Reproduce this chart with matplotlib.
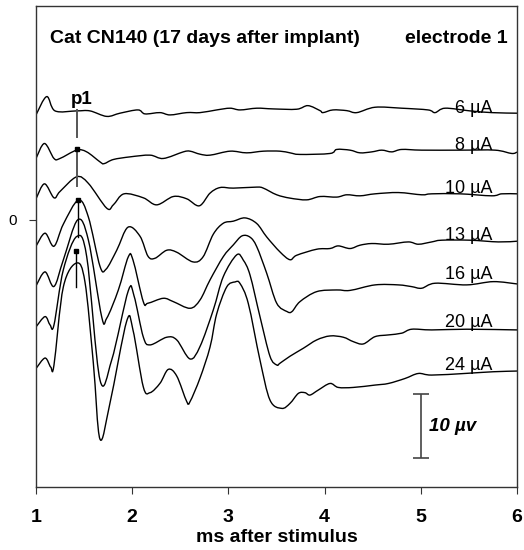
import numpy as np
import matplotlib
matplotlib.use('Agg')
import matplotlib.pyplot as plt
from matplotlib.path import Path
from matplotlib.patches import PathPatch

plt.rcParams['font.family'] = ['Liberation Sans', 'DejaVu Sans']

# stimulus currents (top to bottom)
currents = ['6 µA', '8 µA', '10 µA', '13 µA', '16 µA', '20 µA', '24 µA']

# each trace: time (ms) and amplitude (µV) relative to its own start
t6 = [1.000, 1.111, 1.198, 1.423, 1.561, 1.735, 1.873, 2.060, 2.133, 2.289, 2.393, 2.567,
      2.705, 2.878, 3.017, 3.121, 3.294, 3.464, 3.710, 3.827, 3.952, 3.983, 4.087, 4.230,
      4.334, 4.524, 4.801, 5.075, 5.148, 5.252, 5.511, 5.737, 6.000]
v6 = [0, 2.86, 0.63, 0.63, 0.63, -0.23, 0.27, 0.78, 0.16, 0.36, 0, 0.36,
      0.36, 0.78, 1.05, 0.78, 1.05, 0.94, 0.89, 1.45, 0.67, 0.36, 0.78, 0.67,
      0.36, 1.2, 1.05, 0.78, 0.36, 1.05, 0.63, 0.36, 0.27]

t8 = [1.000, 1.088, 1.187, 1.249, 1.423, 1.527, 1.665, 1.707, 1.804, 1.977, 2.185, 2.323,
      2.531, 2.601, 2.705, 2.809, 3.017, 3.190, 3.363, 3.536, 3.640, 3.744, 4.056, 4.126,
      4.264, 4.368, 4.490, 4.594, 4.698, 4.801, 5.009, 5.407, 5.771, 5.945, 6.000]
v8 = [0, 2.34, 0, 0, 1.30, 1.03, -0.53, -0.81, -0.16, 0.25, 0.52, 0,
      1.03, 1.14, 0.67, 0.52, 1.14, 0.88, 1.14, 1.14, 0.88, 0.63, 0.78, 1.41,
      1.30, 0.88, 1.03, 1.30, 1.03, 1.41, 1.30, 1.30, 1.30, 0.78, 1.0]

t10 = [1.000, 1.088, 1.187, 1.249, 1.423, 1.544, 1.735, 1.804, 1.915, 2.115, 2.255, 2.427,
       2.567, 2.698, 2.809, 2.913, 3.051, 3.294, 3.363, 3.502, 3.640, 3.814, 3.952, 4.126,
       4.230, 4.368, 4.524, 4.767, 5.009, 5.113, 5.407, 5.737, 5.841, 6.000]
v10 = [0, 2.34, 0.16, 1.14, 3.44, 2.42, -1.46, -0.94, 0.78, 0.16, -0.94, 0.36,
       0, -1.09, 0.89, 1.76, 1.67, 1.83, 1.67, 0.63, 0.11, -0.16, 0.36, 0.27,
       0.63, 0.47, 0.78, 0.98, 0.63, 0.78, 0.78, 0.47, 0.78, 0.78]

t13 = [1.000, 1.094, 1.187, 1.284, 1.440, 1.544, 1.665, 1.728, 1.839, 1.956, 2.081, 2.164,
       2.237, 2.359, 2.463, 2.632, 2.736, 2.843, 2.947, 3.051, 3.173, 3.294, 3.398, 3.536,
       3.640, 3.710, 3.918, 4.056, 4.142, 4.264, 4.368, 4.490, 4.663, 4.870, 4.974, 5.113,
       5.217, 5.511, 5.806, 6.000]
v13 = [0, 2.03, 0, 3.44, 7.19, 4.58, -3.13, -3.59, -0.63, 2.97, 1.56, -1.56,
       -1.88, -0.63, -0.94, -2.45, -1.67, 1.88, 3.59, 3.91, 4.42, 3.55, 1.45, -0.89,
       -2.11, -1.41, -0.47, -0.36, 0.05, -0.36, 0.16, 0.42, 0.31, 0.67, 0.31, 0.67,
       0.94, 0.94, 0.67, 0.78]

t16 = [1.000, 1.094, 1.187, 1.284, 1.433, 1.544, 1.683, 1.735, 1.856, 1.959, 2.008, 2.115,
       2.164, 2.323, 2.427, 2.601, 2.705, 2.809, 2.947, 3.051, 3.141, 3.225, 3.294, 3.398,
       3.502, 3.609, 3.661, 3.744, 3.918, 4.126, 4.264, 4.524, 4.767, 4.905, 5.009, 5.148,
       5.477, 5.754, 6.000]
v16 = [0, 2.19, -0.08, 4.06, 10.31, 7.19, -4.84, -5.05, -0.63, 4.53, 4.06, -2.45,
       -2.7, -1.93, -2.45, -3.49, -2.19, 0.94, 4.58, 6.41, 7.81, 7.61, 6.14, 1.98,
       -2.7, -4.0, -4.0, -2.45, -0.89, -0.63, -0.70, 0.16, 0.16, -0.11, -0.36, 0.42,
       0.16, 0.67, 0.31]

t20 = [1.000, 1.094, 1.146, 1.187, 1.284, 1.423, 1.527, 1.665, 1.787, 1.959, 2.019, 2.115,
       2.185, 2.359, 2.463, 2.601, 2.705, 2.843, 2.947, 3.086, 3.155, 3.225, 3.328, 3.432,
       3.502, 3.536, 3.640, 3.779, 3.918, 4.056, 4.194, 4.298, 4.402, 4.524, 4.663, 4.801,
       4.905, 5.113, 5.477, 6.000]
v20 = [0, 1.61, 0.31, 0.31, 8.91, 14.11, 10.98, -8.28, -5.16, 5.63, 4.84, -1.56,
       -2.81, -1.61, -2.03, -5.0, -3.05, 2.66, 7.86, 11.25, 10.42, 8.08, 1.61, -4.58,
       -5.94, -5.67, -4.58, -3.33, -2.03, -1.41, -1.61, -2.30, -2.66, -1.52, -1.25, -0.98,
       -0.36, -0.47, -0.36, -0.47]

t24 = [1.000, 1.094, 1.153, 1.187, 1.284, 1.423, 1.509, 1.596, 1.665, 1.769, 1.943, 2.008,
       2.115, 2.185, 2.289, 2.375, 2.463, 2.567, 2.601, 2.705, 2.809, 2.878, 2.982, 3.069,
       3.121, 3.207, 3.328, 3.432, 3.554, 3.640, 3.727, 3.796, 3.848, 3.934, 4.056, 4.142,
       4.298, 4.524, 4.663, 4.836, 4.974, 5.113, 5.477, 5.754, 6.000]
v24 = [0, 1.64, 0.23, 0.55, 12.73, 16.48, 13.52, 0.86, -11.02, -5.39, 7.42, 6.02,
       -2.85, -3.77, -2.30, -0.13, -1.17, -5.16, -5.16, -1.48, 3.36, 8.52, 12.73, 13.52,
       13.27, 10.14, 1.33, -4.92, -6.22, -5.44, -3.88, -3.77, -4.14, -3.36, -2.33, -2.95,
       -2.95, -2.58, -2.33, -1.55, -0.77, -1.02, -0.75, -0.50, -0.39]

times = [t6, t8, t10, t13, t16, t20, t24]
volts = [v6, v8, v10, v13, v16, v20, v24]

# vertical stacking of the traces (µV)
offsets = [16.4, 9.6, 3.3, -4.1, -10.3, -16.7, -23.2]

# p1 latency drop lines: x (ms), top, bottom (µV)
p1_x = [1.423, 1.423, 1.435, 1.418]
p1_top = [17.2, 11.1, 3.1, -4.8]
p1_bot = [13.0, 5.3, -2.7, -10.5]
p1_mark = [False, True, True, True]
p1_col = ['#555555', '#555555', 'black', 'black']


# smoothed line like the spreadsheet "smoothed line" option (bezier through the points)
def smooth_path(x, y):
    x = np.asarray(x, float)
    y = np.asarray(y, float)
    n = len(x)
    verts = [(x[0], y[0])]
    codes = [Path.MOVETO]
    for i in range(n - 1):
        i0 = max(i - 1, 0)
        i3 = min(i + 2, n - 1)
        c1 = (x[i] + (x[i + 1] - x[i0]) / 6, y[i] + (y[i + 1] - y[i0]) / 6)
        c2 = (x[i + 1] - (x[i3] - x[i]) / 6, y[i + 1] - (y[i3] - y[i]) / 6)
        verts += [c1, c2, (x[i + 1], y[i + 1])]
        codes += [Path.CURVE4] * 3
    return Path(verts, codes)


fig = plt.figure(figsize=(5.24, 5.5), dpi=100)
ax = fig.add_axes([0.0687, 0.1145, 0.918, 0.8745])

for t, v, off in zip(times, volts, offsets):
    ax.add_patch(PathPatch(smooth_path(t, np.array(v) + off), fill=False,
                           edgecolor='black', lw=1.0))

for x, top, bot, mk, col in zip(p1_x, p1_top, p1_bot, p1_mark, p1_col):
    ax.plot([x, x], [top, bot], color=col, lw=1.4 if col != 'black' else 1.0)
    if mk:
        ax.plot([x], [top], marker='s', ms=2.5, color='black')

ax.text(1.47, 18.8, 'p1', fontsize=13.5, fontweight='bold', ha='center', va='center')

# current labels at the right end of each trace
label_y = [17.4, 11.6, 4.9, -2.4, -8.5, -16.0, -22.8]
for lab, ly in zip(currents, label_y):
    ax.text(5.745, ly, lab, fontsize=13, ha='right', va='center')

# 10 µV scale bar
ax.errorbar([5.0], [-32.2], yerr=[5.0], color='#444444', lw=1.2, capsize=6, capthick=1.2)
ax.text(5.09, -32.2, '10 µv', fontsize=13.5, fontweight='bold', style='italic', va='center')

ax.text(1.145, 28.4, 'Cat CN140 (17 days after implant)', fontsize=14, fontweight='bold',
        va='center')
ax.text(5.9, 28.4, 'electrode 1', fontsize=14, fontweight='bold', va='center', ha='right')

ax.set_xlim(1, 6)
ax.set_ylim(-41.7, 33.4)
ax.set_xticks([1, 2, 3, 4, 5, 6])
ax.set_xticklabels(['1', '2', '3', '4', '5', '6'], fontsize=14, fontweight='bold')
ax.set_yticks([0])
ax.set_yticklabels(['0'], fontsize=11)
ax.tick_params(axis='both', direction='out', length=5, color='#333333')
ax.tick_params(axis='x', pad=11)
ax.tick_params(axis='y', pad=9)
for s in ax.spines.values():
    s.set_color('#333333')
    s.set_linewidth(1.0)
ax.set_xlabel('ms after stimulus', fontsize=14, fontweight='bold', labelpad=2)

fig.savefig('out.png', dpi=100)
